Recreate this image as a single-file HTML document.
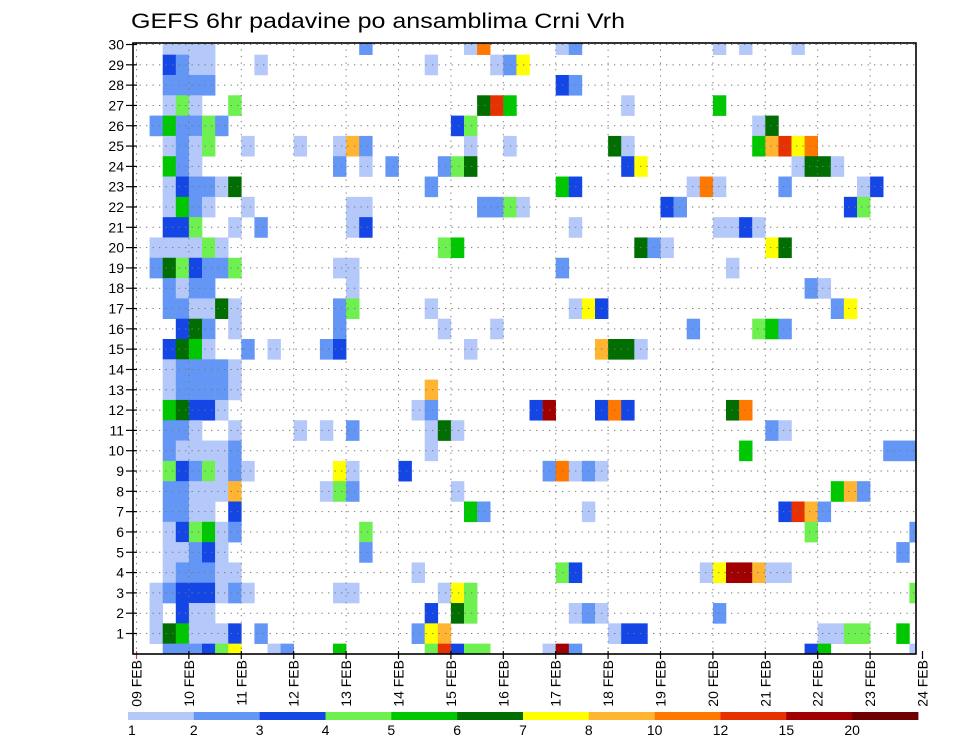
<!DOCTYPE html>
<html><head><meta charset="utf-8">
<style>
html,body{margin:0;padding:0;background:#fff;}
svg{display:block;font-family:"Liberation Sans",sans-serif;}
</style></head>
<body>
<svg id="chart" width="960" height="742" viewBox="0 0 960 742" xmlns="http://www.w3.org/2000/svg">
<rect x="0" y="0" width="960" height="742" fill="#fff"/>
<text x="131" y="28" font-size="21" textLength="494" lengthAdjust="spacingAndGlyphs" fill="#000">GEFS 6hr padavine po ansamblima Crni Vrh</text>
<g id="cells"></g>
<g id="grid"></g>
<g id="yaxis"></g>
<g id="xaxis"></g>
<g id="cbar"></g>
<rect x="133" y="43" width="783" height="611" fill="none" stroke="#000" stroke-width="1.6"/>
</svg>
<script>
// ---- data ----
const members = [0,1,2,3,4,5,6,7,8,9,10,11,12,13,14,15,16,17,18,19,20,21,22,23,24,25,26,27,28,29,30];
const dayLabels = ["09 FEB","10 FEB","11 FEB","12 FEB","13 FEB","14 FEB","15 FEB","16 FEB","17 FEB","18 FEB","19 FEB","20 FEB","21 FEB","22 FEB","23 FEB","24 FEB"];
const levelBounds = [1,2,3,4,5,6,7,8,10,12,15,20,30];
const levelLabels = ["1","2","3","4","5","6","7","8","10","12","15","20"];
// [member, 6h step index since 09 FEB 00Z, mm]
const precipCells = [
[30,2,1.5],[30,3,1.5],[30,4,1.5],[30,5,1.5],[30,17,2.5],[30,25,1.5],[30,26,11],[30,32,1.5],[30,33,2.5],[30,44,1.5],[30,46,1.5],[30,50,1.5],
[29,2,3.5],[29,3,2.5],[29,4,1.5],[29,5,1.5],[29,9,1.5],[29,22,1.5],[29,27,1.5],[29,28,2.5],[29,29,7.5],
[28,2,2.5],[28,3,2.5],[28,4,2.5],[28,5,2.5],[28,32,3.5],[28,33,2.5],
[27,2,1.5],[27,3,4.5],[27,4,1.5],[27,7,4.5],[27,26,6.5],[27,27,13.5],[27,28,5.5],[27,37,1.5],[27,44,5.5],
[26,1,2.5],[26,2,5.5],[26,3,2.5],[26,4,2.5],[26,5,4.5],[26,6,2.5],[26,24,3.5],[26,25,4.5],[26,47,1.5],[26,48,6.5],
[25,2,1.5],[25,3,2.5],[25,4,1.5],[25,5,4.5],[25,8,1.5],[25,12,1.5],[25,15,1.5],[25,16,9],[25,17,2.5],[25,25,1.5],[25,28,1.5],[25,36,6.5],[25,37,1.5],[25,47,5.5],[25,48,9],[25,49,13.5],[25,50,7.5],[25,51,11],
[24,2,5.5],[24,3,2.5],[24,4,1.5],[24,15,2.5],[24,17,1.5],[24,19,2.5],[24,23,2.5],[24,24,4.5],[24,25,6.5],[24,37,3.5],[24,38,7.5],[24,50,1.5],[24,51,6.5],[24,52,6.5],[24,53,1.5],
[23,2,1.5],[23,3,3.5],[23,4,2.5],[23,5,2.5],[23,6,1.5],[23,7,6.5],[23,22,2.5],[23,32,5.5],[23,33,3.5],[23,42,1.5],[23,43,11],[23,44,1.5],[23,49,2.5],[23,55,1.5],[23,56,3.5],
[22,2,1.5],[22,3,5.5],[22,4,2.5],[22,5,1.5],[22,8,1.5],[22,16,1.5],[22,17,1.5],[22,26,2.5],[22,27,2.5],[22,28,4.5],[22,29,1.5],[22,40,3.5],[22,41,2.5],[22,54,3.5],[22,55,4.5],
[21,2,3.5],[21,3,3.5],[21,4,4.5],[21,7,1.5],[21,9,2.5],[21,16,1.5],[21,17,3.5],[21,33,1.5],[21,44,1.5],[21,45,1.5],[21,46,3.5],[21,47,1.5],
[20,1,1.5],[20,2,1.5],[20,3,1.5],[20,4,1.5],[20,5,4.5],[20,6,1.5],[20,23,4.5],[20,24,5.5],[20,38,6.5],[20,39,2.5],[20,40,1.5],[20,48,7.5],[20,49,6.5],
[19,1,2.5],[19,2,6.5],[19,3,4.5],[19,4,3.5],[19,5,2.5],[19,6,2.5],[19,7,4.5],[19,15,1.5],[19,16,1.5],[19,32,2.5],[19,45,1.5],
[18,2,2.5],[18,3,1.5],[18,4,2.5],[18,5,2.5],[18,16,1.5],[18,51,2.5],[18,52,1.5],
[17,2,2.5],[17,3,2.5],[17,4,1.5],[17,5,1.5],[17,6,6.5],[17,7,1.5],[17,15,2.5],[17,16,4.5],[17,22,1.5],[17,33,1.5],[17,34,7.5],[17,35,3.5],[17,53,2.5],[17,54,7.5],
[16,3,3.5],[16,4,6.5],[16,5,2.5],[16,7,1.5],[16,15,2.5],[16,23,1.5],[16,27,1.5],[16,42,2.5],[16,47,4.5],[16,48,5.5],[16,49,2.5],
[15,2,3.5],[15,3,6.5],[15,4,5.5],[15,5,1.5],[15,8,2.5],[15,10,1.5],[15,14,2.5],[15,15,3.5],[15,25,1.5],[15,35,9],[15,36,6.5],[15,37,6.5],[15,38,1.5],
[14,2,1.5],[14,3,2.5],[14,4,2.5],[14,5,2.5],[14,6,2.5],[14,7,1.5],
[13,2,1.5],[13,3,2.5],[13,4,2.5],[13,5,2.5],[13,6,2.5],[13,7,1.5],[13,22,9],
[12,2,5.5],[12,3,6.5],[12,4,3.5],[12,5,3.5],[12,6,1.5],[12,21,1.5],[12,22,2.5],[12,30,3.5],[12,31,17],[12,35,3.5],[12,36,11],[12,37,3.5],[12,45,6.5],[12,46,11],
[11,2,2.5],[11,3,2.5],[11,4,1.5],[11,7,1.5],[11,12,1.5],[11,14,1.5],[11,16,2.5],[11,22,1.5],[11,23,6.5],[11,24,1.5],[11,48,2.5],[11,49,1.5],
[10,2,2.5],[10,3,1.5],[10,4,1.5],[10,5,1.5],[10,6,1.5],[10,7,2.5],[10,22,1.5],[10,46,5.5],[10,57,2.5],[10,58,2.5],[10,59,2.5],
[9,2,4.5],[9,3,3.5],[9,4,2.5],[9,5,4.5],[9,6,1.5],[9,7,2.5],[9,8,1.5],[9,15,7.5],[9,16,1.5],[9,20,3.5],[9,31,2.5],[9,32,11],[9,33,1.5],[9,34,2.5],[9,35,1.5],
[8,2,2.5],[8,3,2.5],[8,4,1.5],[8,5,1.5],[8,6,1.5],[8,7,9],[8,14,1.5],[8,15,4.5],[8,16,2.5],[8,24,1.5],[8,53,5.5],[8,54,9],[8,55,2.5],
[7,2,2.5],[7,3,2.5],[7,4,1.5],[7,5,1.5],[7,7,3.5],[7,25,5.5],[7,26,2.5],[7,34,1.5],[7,49,3.5],[7,50,13.5],[7,51,9],[7,52,2.5],
[6,2,1.5],[6,3,3.5],[6,4,4.5],[6,5,5.5],[6,6,1.5],[6,7,2.5],[6,17,4.5],[6,51,4.5],[6,59,2.5],
[5,2,1.5],[5,3,1.5],[5,4,2.5],[5,5,3.5],[5,6,1.5],[5,17,2.5],[5,58,2.5],
[4,2,1.5],[4,3,2.5],[4,4,2.5],[4,5,2.5],[4,6,1.5],[4,7,1.5],[4,21,1.5],[4,32,4.5],[4,33,3.5],[4,43,1.5],[4,44,7.5],[4,45,17],[4,46,17],[4,47,9],[4,48,1.5],[4,49,1.5],
[3,1,1.5],[3,2,2.5],[3,3,3.5],[3,4,3.5],[3,5,3.5],[3,6,1.5],[3,7,2.5],[3,8,1.5],[3,15,1.5],[3,16,1.5],[3,23,1.5],[3,24,7.5],[3,25,4.5],[3,59,4.5],
[2,1,1.5],[2,3,3.5],[2,4,1.5],[2,5,1.5],[2,22,3.5],[2,24,6.5],[2,25,4.5],[2,33,1.5],[2,34,2.5],[2,35,1.5],[2,44,2.5],
[1,1,1.5],[1,2,6.5],[1,3,5.5],[1,4,1.5],[1,5,1.5],[1,6,1.5],[1,7,3.5],[1,9,2.5],[1,21,2.5],[1,22,7.5],[1,23,9],[1,36,1.5],[1,37,3.5],[1,38,3.5],[1,52,1.5],[1,53,1.5],[1,54,4.5],[1,55,4.5],[1,58,5.5],
[0,2,2.5],[0,3,2.5],[0,4,2.5],[0,5,3.5],[0,6,4.5],[0,7,7.5],[0,10,1.5],[0,11,2.5],[0,15,5.5],[0,22,4.5],[0,23,13.5],[0,24,3.5],[0,25,4.5],[0,26,4.5],[0,31,1.5],[0,32,17],[0,33,2.5]
,[0,51,3.5],[0,52,5.5],[0,59,1.5]
];
const levelColors = ["#b4c8fa","#6496f5","#1446e6","#6ef050","#00c800","#006e00","#ffff00","#ffb432","#ff7800","#e63200","#a00000","#6e0000"];

// ---- layout ----
const NS = "http://www.w3.org/2000/svg";
const plotL = 133, plotR = 916, plotT = 43, plotB = 654;
const x0 = 136.5, dayW = 52.4, stepW = dayW/4;
const yTick1 = 633.5, rowH = 20.31;
function xScale(step){ return x0 + step*stepW; }
function yScale(member){ return yTick1 - (member-1)*rowH; }
function colorFor(v){
  for(let i=0;i<levelBounds.length-1;i++){ if(v>=levelBounds[i] && v<levelBounds[i+1]) return levelColors[i]; }
  return v>=levelBounds[levelBounds.length-1] ? levelColors[levelColors.length-1] : null;
}
function mk(tag, attrs, parent){
  const el = document.createElementNS(NS, tag);
  for(const k in attrs) el.setAttribute(k, attrs[k]);
  parent.appendChild(el);
  return el;
}

// cells
const gCells = document.getElementById('cells');
precipCells.forEach(function(c){
  const col = colorFor(c[2]); if(!col) return;
  let x1 = xScale(c[1]), x2 = xScale(c[1]+1);
  let y1 = yScale(c[0]) - rowH/2, y2 = yScale(c[0]) + rowH/2;
  x1 = Math.max(x1, plotL); x2 = Math.min(x2, plotR);
  y1 = Math.max(y1, plotT); y2 = Math.min(y2, plotB);
  if(x2<=x1||y2<=y1) return;
  const r = mk('rect', {x:x1.toFixed(2), y:y1.toFixed(2), width:(x2-x1+0.3).toFixed(2), height:(y2-y1+0.3).toFixed(2), fill:col}, gCells);
  
  
});

// grid
const gGrid = document.getElementById('grid');
members.forEach(function(m){
  if(m<1) return;
  const y = yScale(m);
  const l = mk('line', {x1:plotL, x2:plotR, y1:y, y2:y, stroke:'#777', 'stroke-width':1, 'stroke-dasharray':'1.3,5.2'}, gGrid);
  
  
});
dayLabels.forEach(function(d,i){
  const x = x0 + i*dayW;
  if(x<=plotL+2 || x>=plotR-2) return;
  const l = mk('line', {x1:x, x2:x, y1:plotT, y2:plotB, stroke:'#777', 'stroke-width':1, 'stroke-dasharray':'1.3,5.2'}, gGrid);
  
  
});

// y axis
const gY = document.getElementById('yaxis');
members.forEach(function(m){
  if(m<1) return;
  const y = yScale(m);
  const t = mk('line', {x1:plotL-7, x2:plotL+4, y1:y, y2:y, stroke:'#000', 'stroke-width':1.2}, gY);
  
  
  const tx = mk('text', {x:plotL-9, y:y+5, 'font-size':14, 'text-anchor':'end', fill:'#000'}, gY);
  tx.textContent = String(m);
  
  
});

// x axis
const gX = document.getElementById('xaxis');
dayLabels.forEach(function(d,i){
  const x = x0 + i*dayW;
  const t = mk('line', {x1:x, x2:x, y1:plotB-3, y2:plotB+5, stroke:(i===0?'#b44':'#000'), 'stroke-width':1.2}, gX);
  
  
  const tx = mk('text', {x:0, y:0, 'font-size':14, 'text-anchor':'end', fill:'#000', transform:'translate(' + (x+5) + ',' + (plotB+6) + ') rotate(-90)'}, gX);
  tx.textContent = d;
  
  
});

// colorbar
const gC = document.getElementById('cbar');
const cbL = 128, cbR = 918, cbY = 712, cbH = 8;
const segW = (cbR-cbL)/levelColors.length;
levelColors.forEach(function(col,i){
  const r = mk('rect', {x:(cbL+i*segW).toFixed(2), y:cbY, width:(segW+0.4).toFixed(2), height:cbH, fill:col}, gC);
  
  
});
levelLabels.forEach(function(lab,i){
  const tx = mk('text', {x:(cbL+i*segW).toFixed(2), y:735, 'font-size':14, 'text-anchor':(i===0?'start':'middle'), fill:'#000'}, gC);
  tx.textContent = lab;
  
  
});
</script>
</body></html>
